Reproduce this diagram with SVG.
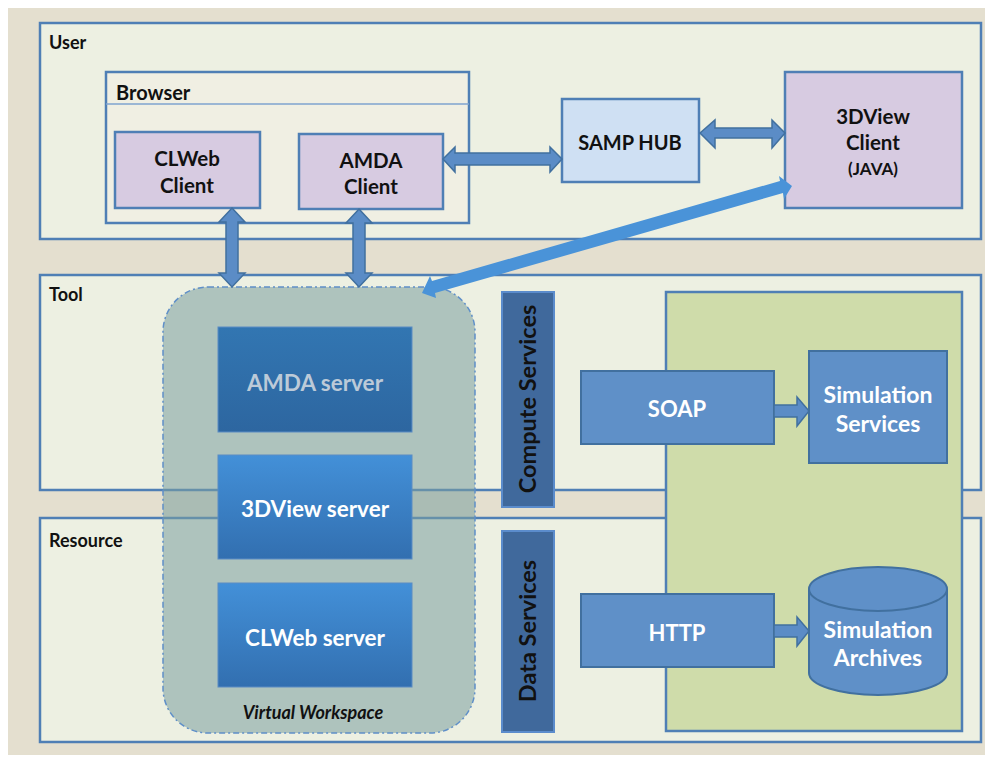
<svg xmlns="http://www.w3.org/2000/svg" width="990" height="759" viewBox="0 0 990 759">
<defs>
<linearGradient id="gAmda" x1="0" y1="0" x2="0" y2="1"><stop offset="0" stop-color="#3276b2"/><stop offset="1" stop-color="#2d66a0"/></linearGradient>
<linearGradient id="gSrv" x1="0" y1="0" x2="0" y2="1"><stop offset="0" stop-color="#4390d8"/><stop offset="1" stop-color="#326fb0"/></linearGradient>
</defs>
<style>
.lay{fill:#edf0e2;stroke:#4f7fb5;stroke-width:2.5}
.client{fill:#d7cbe1;stroke:#4f7fb5;stroke-width:2.5}
.t{font-family:Lato,"Liberation Sans",sans-serif;font-weight:bold}
.dk{fill:#111}
.wt{fill:#fff}
.c{text-anchor:middle}
.blk{fill:#5f90c8;stroke:#41709f;stroke-width:2}
.arr{fill:#5b8cc6;stroke:#41709f;stroke-width:1.5}
.arr2{fill:#4a93d8;stroke:none}
</style>
<rect x="8" y="8" width="977" height="747" fill="#e4dfcf"/>
<g id="user">
<rect class="lay" x="40" y="23" width="941" height="216"/>
<text class="t dk" x="49" y="49" font-size="18">User</text>
</g>
<g id="tool">
<rect class="lay" x="40" y="275" width="941" height="215"/>
<text class="t dk" x="49" y="301" font-size="18">Tool</text>
</g>
<g id="resource">
<rect class="lay" x="40" y="518" width="941" height="224"/>
<text class="t dk" x="49" y="547" font-size="18">Resource</text>
</g>
<g id="browser">
<rect x="106" y="72" width="363" height="151" fill="#f0efe3" stroke="#4f7fb5" stroke-width="2.5"/>
<line x1="106" y1="104" x2="469" y2="104" stroke="#7fa3cf" stroke-width="1.5"/>
<text class="t dk" x="116" y="100" font-size="20">Browser</text>
</g>
<g id="clweb-client">
<rect class="client" x="115" y="132" width="145" height="76"/>
<text class="t dk c" x="187" y="166" font-size="20.5">CLWeb</text>
<text class="t dk c" x="187" y="193" font-size="20.5">Client</text>
</g>
<g id="amda-client">
<rect class="client" x="299" y="134" width="144" height="75"/>
<text class="t dk c" x="371" y="168" font-size="20.5">AMDA</text>
<text class="t dk c" x="371" y="194" font-size="20.5">Client</text>
</g>
<g id="samp-hub">
<rect x="562" y="99" width="137" height="83" fill="#cfe0f3" stroke="#4f7fb5" stroke-width="2.5"/>
<text class="t dk c" x="630" y="150" font-size="20">SAMP HUB</text>
</g>
<g id="3dview-client">
<rect class="client" x="785" y="72" width="177" height="136"/>
<text class="t dk c" x="873" y="124" font-size="20.5">3DView</text>
<text class="t dk c" x="873" y="150" font-size="20.5">Client</text>
<text class="t dk c" x="873" y="175" font-size="17">(JAVA)</text>
</g>
<g id="virtual-workspace">
<rect x="163" y="287" width="312" height="446" rx="45" fill="#7a9e9f" fill-opacity="0.55" stroke="#5f8fc8" stroke-width="1.5" stroke-dasharray="6,3,2,3"/>
<text class="t dk c" x="313" y="719" font-size="18" font-style="italic">Virtual Workspace</text>
</g>
<g id="amda-server">
<rect x="218" y="327" width="194" height="105" fill="url(#gAmda)" stroke="#5a8cc4" stroke-width="1"/>
<text class="t c" x="315" y="391" font-size="22.5" fill="#bccad8">AMDA server</text>
</g>
<g id="3dview-server">
<rect x="218" y="455" width="194" height="104" fill="url(#gSrv)" stroke="#5a8cc4" stroke-width="1"/>
<text class="t wt c" x="315" y="517" font-size="22.5">3DView server</text>
</g>
<g id="clweb-server">
<rect x="218" y="583" width="194" height="104" fill="url(#gSrv)" stroke="#5a8cc4" stroke-width="1"/>
<text class="t wt c" x="315" y="646" font-size="22.5">CLWeb server</text>
</g>
<g id="compute-services">
<rect x="502" y="292" width="52" height="215" fill="#40699c" stroke="#5b8ccc" stroke-width="2"/>
<text class="t dk c" x="0" y="0" font-size="23.5" transform="translate(536,399) rotate(-90)">Compute Services</text>
</g>
<g id="data-services">
<rect x="502" y="531" width="52" height="201" fill="#40699c" stroke="#5b8ccc" stroke-width="2"/>
<text class="t dk c" x="0" y="0" font-size="23.5" transform="translate(536,631) rotate(-90)">Data Services</text>
</g>
<g id="provider">
<rect x="666" y="292" width="296" height="439" fill="#cfdcaa" stroke="#4f7fb5" stroke-width="2.5"/>
</g>
<g id="soap">
<rect class="blk" x="581" y="371" width="193" height="73"/>
<text class="t wt c" x="677" y="417" font-size="22">SOAP</text>
</g>
<g id="simulation-services">
<rect class="blk" x="809" y="351" width="138" height="112"/>
<text class="t wt c" x="878" y="403" font-size="23">Simulation</text>
<text class="t wt c" x="878" y="432" font-size="23">Services</text>
</g>
<g id="http">
<rect class="blk" x="581" y="594" width="193" height="73"/>
<text class="t wt c" x="677" y="641" font-size="22">HTTP</text>
</g>
<g id="simulation-archives">
<path class="blk" d="M809,589 A69,22 0 0 1 947,589 L947,673 A69,22 0 0 1 809,673 Z"/>
<path d="M809,589 A69,22 0 0 0 947,589" fill="none" stroke="#41709f" stroke-width="2"/>
<text class="t wt c" x="878" y="638" font-size="23">Simulation</text>
<text class="t wt c" x="878" y="666" font-size="23">Archives</text>
</g>
<g id="connectors">
<path class="arr" d="M774,405 L797,405 L797,397 L809,411 L797,426 L797,417 L774,417 Z"/>
<path class="arr" d="M774,625 L797,625 L797,617 L809,631 L797,646 L797,637 L774,637 Z"/>
<path class="arr" d="M443,159 L455,147 L455,153 L550,153 L550,147 L562,159 L550,172 L550,165 L455,165 L455,172 Z"/>
<path class="arr" d="M700,133 L715,120 L715,128 L772,128 L772,120 L785,133 L772,148 L772,138 L715,138 L715,148 Z"/>
<path class="arr" d="M232,208 L245,222 L238,222 L238,273 L245,273 L232,287 L219,273 L226,273 L226,222 L219,222 Z"/>
<path class="arr" d="M359,209 L372,223 L365,223 L365,273 L372,273 L359,287 L346,273 L353,273 L353,223 L346,223 Z"/>
<path class="arr2" d="M422,293 L430,276 L432,281 L780,181 L779,176 L792,186 L784,199 L783,193 L435,293 L436,298 Z"/>
</g>
</svg>
